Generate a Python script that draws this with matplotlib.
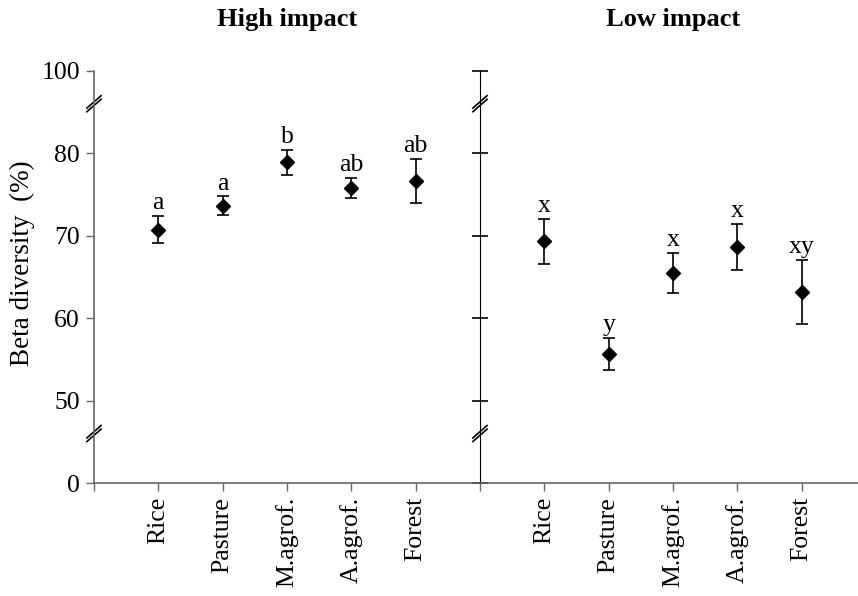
#!/usr/bin/python3
#
# beta diversity by land use, high vs low impact
#
import numpy as np
import matplotlib.pyplot as plt

plt.rcParams['font.family'] = ['Liberation Serif', 'DejaVu Serif']

#
# data
#
land_uses = ['Rice', 'Pasture', 'M.agrof.', 'A.agrof.', 'Forest']
panels = ['High impact', 'Low impact']

high_mean = [70.7, 73.6, 78.9, 75.8, 76.6]
high_err = [1.65, 1.15, 1.5, 1.2, 2.65]
high_letters = ['a', 'a', 'b', 'ab', 'ab']

low_mean = [69.3, 55.6, 65.5, 68.6, 63.2]
low_err = [2.7, 1.95, 2.45, 2.8, 3.9]
low_letters = ['x', 'y', 'x', 'x', 'xy']

# broken axis: 0 and 100 are drawn at 40 and 90
ytick_pos = [40, 50, 60, 70, 80, 90]
ytick_lab = ['0', '50', '60', '70', '80', '100']
breaks = [46, 86]

#
# plot
#
fig = plt.figure(figsize=(8.58, 5.96), dpi=100)
ax = fig.add_axes([94 / 858, 113 / 596, 764 / 858, 412.3 / 596])

x_high = np.arange(1, 6)
x_low = np.arange(7, 12)
grey = '#666666'

for xs, means, errs, letters in [(x_high, high_mean, high_err, high_letters),
                                 (x_low, low_mean, low_err, low_letters)]:
    ax.errorbar(xs, means, yerr=errs, fmt='D', color='black', ms=7,
                elinewidth=1.2, capsize=4.5, capthick=1.2)
    for x, m, e, lab in zip(xs, means, errs, letters):
        ax.annotate(lab, (x, m + e), xytext=(0, 5), textcoords='offset points',
                    ha='center', va='baseline', fontsize=18.5)

ax.set_xlim(0, 764 / 64.33)
ax.set_ylim(40, 90)

ax.set_xticks(list(x_high) + list(x_low))
ax.set_xticklabels(land_uses + land_uses, rotation=90, fontsize=18.5)
ax.set_xticks([0, 6], minor=True)
ax.tick_params(axis='x', which='both', direction='out', length=6,
               width=1, color=grey, pad=4)

ax.set_yticks(ytick_pos)
ax.set_yticklabels(ytick_lab, fontsize=18.5)
ax.tick_params(axis='y', direction='out', length=6, width=1, color=grey, pad=4)
ax.set_ylabel('Beta diversity  (%)', fontsize=19.5)
ax.yaxis.set_label_coords(-0.077, 0.534)

for side in ['top', 'right']:
    ax.spines[side].set_visible(False)
for side in ['left', 'bottom']:
    ax.spines[side].set_color(grey)
    ax.spines[side].set_linewidth(1.2)

# divider between the two panels, ticks across it
div = ax.secondary_yaxis(6 / (764 / 64.33))
div.set_yticks(ytick_pos)
div.set_yticklabels([])
div.tick_params(direction='inout', length=12, width=1.2, color='black')
div.spines['left'].set_color('black')
div.spines['left'].set_linewidth(1.6)

# break marks on both vertical axes
for xb in [0, 6]:
    for yb in breaks:
        for dy in [-0.22, 0.22]:
            ax.plot([xb - 0.11, xb + 0.11], [yb - 0.75 + dy, yb + 0.75 + dy],
                    color='black', lw=1.2, clip_on=False)

# panel titles
for xc, title in zip([3, 9], panels):
    ax.text(xc, 96.15, title, ha='center', va='center', fontsize=19,
            fontweight='bold')

plt.savefig('out.png', dpi=100)
